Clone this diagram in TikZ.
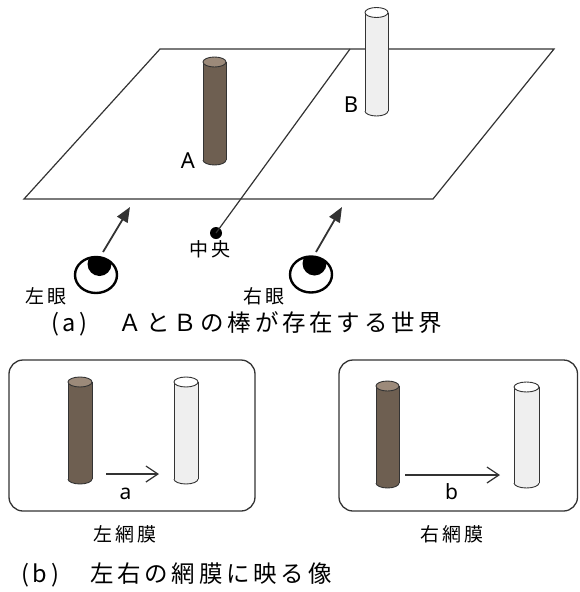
\documentclass[tikz,border=0pt]{standalone}
\usepackage{fontspec}
\setmainfont{Noto Sans}
\newfontfamily\jp[LetterSpace=16]{Noto Sans CJK JP}
\usetikzlibrary{arrows.meta}

\definecolor{ink}{HTML}{333333}
\definecolor{rodbrown}{HTML}{6E5F51}
\definecolor{rodbrowntop}{HTML}{9C8A7A}
\definecolor{rodwhite}{HTML}{EFEFEF}
\definecolor{rodwhitetop}{HTML}{FFFFFF}

% upright rod: left x, right x, top y, bottom y, body colour, cap colour
\newcommand\rod[6]{%
  \pgfmathsetmacro\rodmid{(#1+#2)/2}%
  \pgfmathsetmacro\rodrad{(#2-#1)/2}%
  \fill[#5] (#1,#3) rectangle (#2,#4);
  \fill[#5] (\rodmid,#4) ellipse [x radius=\rodrad pt, y radius=5pt];
  \begin{scope}
    \clip (#1-2,#4) rectangle (#2+2,#4+8);
    \draw[rodline] (\rodmid,#4) ellipse [x radius=\rodrad pt, y radius=5pt];
  \end{scope}
  \draw[rodline] (#1,#3) -- (#1,#4) (#2,#3) -- (#2,#4);
  \filldraw[rodline,fill=#6] (\rodmid,#3) ellipse [x radius=\rodrad pt, y radius=5pt];
}

% eye seen from above: centre x, centre y
\newcommand\eye[2]{%
  \begin{scope}
    \clip (#1,#2) ellipse [x radius=21pt, y radius=18pt];
    \fill[black] (#1+3.5,#2-11) circle [radius=12pt];
  \end{scope}
  \draw[black,line width=2.4pt] (#1,#2) ellipse [x radius=21pt, y radius=18pt];
}

\begin{document}
\begin{tikzpicture}[x=1pt,y=-1pt,
  edge/.style={draw=ink,line width=1.2pt},
  rodline/.style={draw=ink,line width=0.9pt},
  panel/.style={draw=ink,line width=1.3pt,rounded corners=14pt},
  dot/.style={circle,fill=black,inner sep=0pt,minimum size=12pt},
  eyearrow/.style={draw=ink,line width=1.8pt,-{Triangle[length=15pt,width=12pt]}},
  shiftarrow/.style={draw=ink,line width=1.2pt,-{Straight Barb[length=12pt,width=16pt,line width=1.2pt]}},
  jplabel/.style={anchor=west,inner sep=0pt,font=\jp\fontsize{19}{22}\selectfont},
  caption/.style={anchor=west,inner sep=0pt,font=\jp\fontsize{23.5}{28}\selectfont},
  rodlabel/.style={anchor=base,inner sep=0pt,font=\fontsize{22}{26}\selectfont},
  shiftlabel/.style={anchor=base,inner sep=0pt,font=\fontsize{21}{25}\selectfont}]
\useasboundingbox (0,0) rectangle (579,592);

% ground plane and its centre line
\draw[edge] (160,49) -- (554,49) -- (433,199) -- (24,199) -- cycle;
\coordinate (midtop) at (350,49);
\node[dot] (centre) at (216,233) {};
\draw[edge] (midtop) -- (centre.center);
\node[jplabel] (centrelabel) at (189,249.5) {中央};

% the two rods standing on the plane
\rod{203}{226}{62}{160}{rodbrown}{rodbrowntop}
\rod{365}{388}{12.5}{111}{rodwhite}{rodwhitetop}
\node[rodlabel] (labA) at (188,168) {A};
\node[rodlabel] (labB) at (351,112) {B};

% eyes and lines of sight
\eye{96}{275}
\eye{311}{274.5}
\coordinate (lefteye) at (103,252);
\coordinate (leftaim) at (130,207);
\coordinate (righteye) at (316,252);
\coordinate (rightaim) at (342,207);
\draw[eyearrow] (lefteye) -- (leftaim);
\draw[eyearrow] (righteye) -- (rightaim);
\node[jplabel] (leftlabel) at (25,296) {左眼};
\node[jplabel] (rightlabel) at (243,296) {右眼};

\node[caption] (capa) at (51,324) {(a)　ＡとＢの棒が存在する世界};

% retinal images
\draw[panel] (9,360) rectangle (255,511);
\draw[panel] (339,360) rectangle (577.5,511);

\rod{68}{92}{382}{479}{rodbrown}{rodbrowntop}
\rod{174}{198}{382}{479}{rodwhite}{rodwhitetop}
\rod{376}{399}{386}{483}{rodbrown}{rodbrowntop}
\rod{514}{539}{387}{483}{rodwhite}{rodwhitetop}

\coordinate (a0) at (106,474);
\coordinate (a1) at (159,474);
\coordinate (b0) at (405,475);
\coordinate (b1) at (500,475);
\draw[shiftarrow] (a0) -- (a1);
\draw[shiftarrow] (b0) -- (b1);
\node[shiftlabel] (laba) at (125.5,499) {a};
\node[shiftlabel] (labb) at (451.5,499) {b};

\node[jplabel] (leftret) at (93,534) {左網膜};
\node[jplabel] (rightret) at (420,534) {右網膜};

\node[caption] (capb) at (21,575) {(b)　左右の網膜に映る像};
\end{tikzpicture}
\end{document}
